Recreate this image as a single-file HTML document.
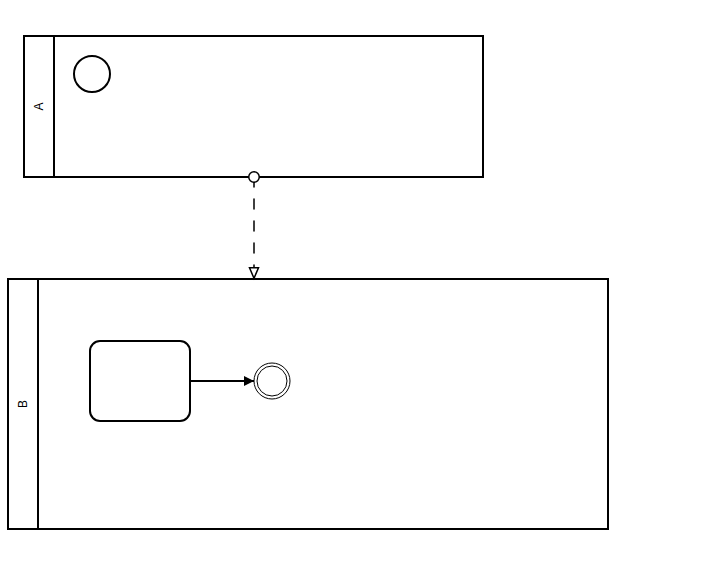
<!DOCTYPE html>
<html><head><meta charset="utf-8">
<style>
html,body{margin:0;padding:0;background:#fff;width:721px;height:576px;overflow:hidden}
svg{display:block}
text{font-family:"Liberation Sans",sans-serif;font-size:12px;fill:#000}
</style></head><body>
<svg width="721" height="576" viewBox="0 0 721 576" xmlns="http://www.w3.org/2000/svg">
<rect x="0" y="0" width="721" height="576" fill="#fff"/>
<!-- Pool A -->
<rect x="24" y="36" width="459" height="141" fill="#fff" stroke="#000" stroke-width="2"/>
<line x1="54" y1="36" x2="54" y2="177" stroke="#000" stroke-width="2"/>
<text transform="translate(43,106.5) rotate(-90)" text-anchor="middle">A</text>
<circle cx="92" cy="74" r="18" fill="#fff" stroke="#000" stroke-width="2"/>
<!-- Pool B -->
<rect x="8" y="279" width="600" height="250" fill="#fff" stroke="#000" stroke-width="2"/>
<line x1="38" y1="279" x2="38" y2="529" stroke="#000" stroke-width="2"/>
<text transform="translate(27,404) rotate(-90)" text-anchor="middle">B</text>
<rect x="90" y="341" width="100" height="80" rx="10" ry="10" fill="#fff" stroke="#000" stroke-width="2"/>
<circle cx="272" cy="381" r="18" fill="#fff" stroke="#000" stroke-width="1"/>
<circle cx="272" cy="381" r="15" fill="none" stroke="#000" stroke-width="1"/>
<!-- sequence flow -->
<line x1="190" y1="381" x2="254" y2="381" stroke="#000" stroke-width="2"/>
<path d="M244 376 L254 381 L244 386 Z" fill="#000"/>
<!-- message flow -->
<path d="M254 177 L254 279" fill="none" stroke="#000" stroke-width="1.5" stroke-dasharray="10,12" stroke-linecap="round"/>
<circle cx="254" cy="177" r="5.25" fill="#fff" stroke="#000" stroke-width="1.5"/>
<path d="M249.5 267.75 L258.5 267.75 L254 278.25 Z" fill="#fff" stroke="#000" stroke-width="1.5" stroke-linejoin="miter"/>
</svg>
</body></html>
